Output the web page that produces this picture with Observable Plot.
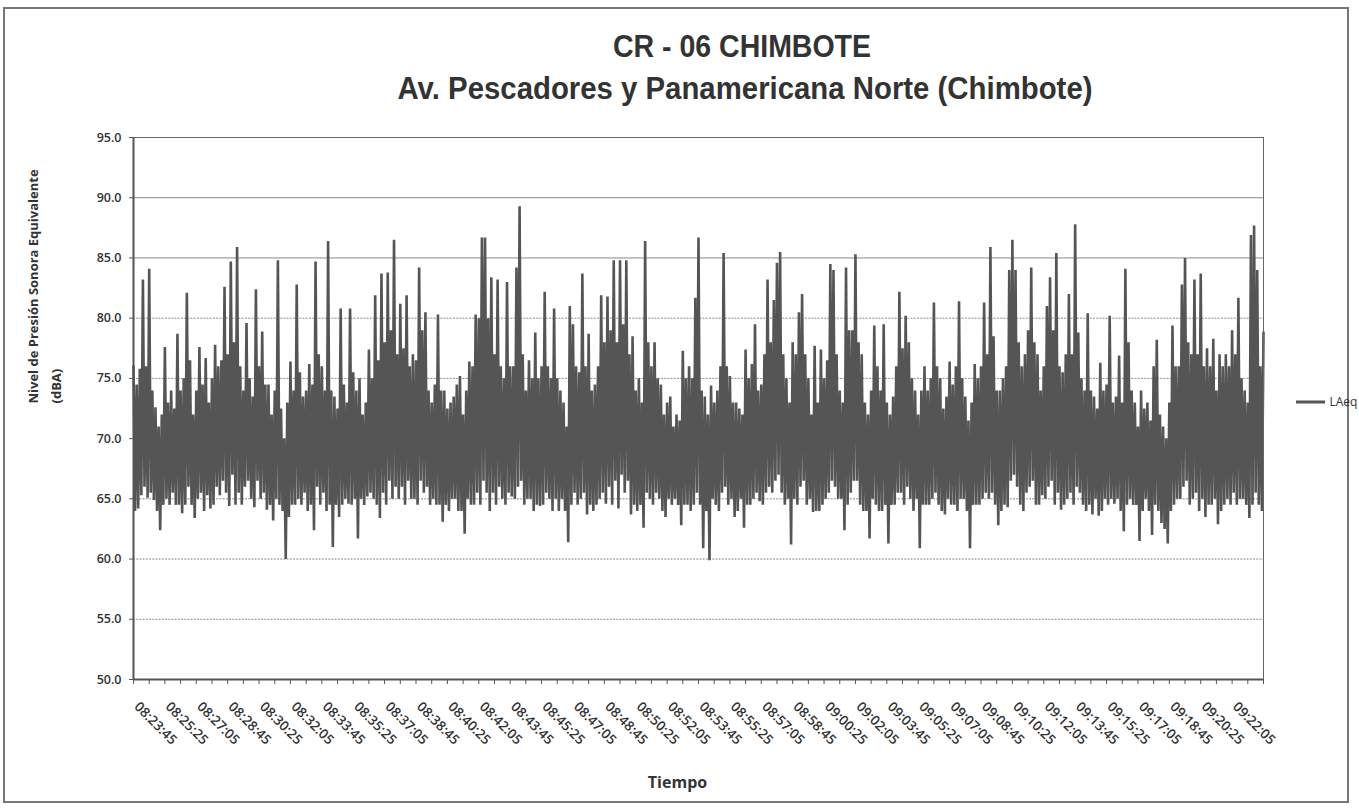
<!DOCTYPE html>
<html>
<head>
<meta charset="utf-8">
<script src="https://cdn.jsdelivr.net/npm/d3@7"></script>
<script src="https://cdn.jsdelivr.net/npm/@observablehq/plot@0.6"></script>
<style>
  html, body { margin: 0; padding: 0; background: #fff; }
  #page { position: relative; width: 1359px; height: 808px; overflow: hidden; background: #fff; }
  #border { position: absolute; left: 3px; top: 7px; width: 1346px; height: 796px; border: 2px solid #777; box-sizing: border-box; }
  #titles { position: absolute; left: 0; top: 0; }
  #chart { position: absolute; left: 0; top: 110px; }
</style>
</head>
<body>
<div id="page">
  <div id="border"></div>
  <svg id="titles" width="1359" height="110"></svg>
  <div id="chart"></div>
</div>
<script>
// ---- data ----
const title = "CR - 06 CHIMBOTE";
const subtitle = "Av. Pescadores y Panamericana Norte (Chimbote)";
const seriesName = "LAeq";
const yTitle1 = "Nivel de Presión Sonora Equivalente";
const yTitle2 = "(dBA)";
const xTitle = "Tiempo";
const stepSeconds = 5; // one reading every 5 s, starting 08:23:45

// readings at 08:23:45, 08:23:55, 08:24:05 ... (upper side of the band, every 10 s)
const laeqHigh = [
  76.0, 74.5, 75.8, 83.2, 76.0, 84.1, 74.0, 72.6, 71.0, 72.0,
  77.6, 73.0, 74.0, 72.5, 78.7, 74.0, 75.0, 82.1, 76.5, 72.0,
  74.0, 77.6, 74.5, 76.7, 73.0, 75.0, 77.8, 76.0, 76.5, 82.6,
  77.0, 84.7, 78.0, 85.9, 76.0, 74.0, 79.6, 75.0, 73.5, 82.4,
  76.0, 78.9, 74.5, 74.5, 72.0, 74.0, 84.8, 72.5, 70.0, 73.0,
  76.4, 74.0, 82.8, 75.5, 73.5, 74.0, 76.2, 74.5, 84.7, 77.0,
  76.0, 74.0, 86.4, 74.0, 73.5, 72.5, 80.8, 74.5, 73.0, 80.8,
  75.5, 74.0,
  75.0, 72.0, 73.0, 77.4, 75.0, 81.9, 76.5, 83.7, 78.0, 83.8,
  79.0, 86.5, 77.0, 81.2, 77.5, 81.9, 76.0, 77.0, 76.5, 84.2,
  79.0, 80.5, 74.0, 73.0, 74.5, 80.3, 74.0, 74.0, 72.5, 73.0,
  73.5, 74.5, 75.2, 72.0, 74.0, 76.4, 76.0, 80.3, 80.0, 86.7,
  86.7, 80.0, 83.4, 77.0, 83.2, 76.0, 75.0, 83.0, 76.0, 76.0,
  84.2, 89.3, 77.0, 74.0, 76.5, 75.0, 78.8, 75.0, 76.0, 82.2,
  76.0, 75.0, 80.8, 75.0, 74.0, 73.0, 71.0, 81.0, 79.5, 76.0,
  75.5, 83.7,
  76.0, 78.7, 74.0, 74.5, 76.0, 81.9, 78.0, 81.8, 79.0, 84.8,
  78.0, 84.8, 79.5, 84.8, 77.0, 78.5, 74.0, 75.0, 73.0, 86.4,
  78.0, 76.0, 78.0, 75.0, 74.5, 72.0, 73.0, 73.5, 71.0, 72.0,
  71.5, 77.3, 75.0, 76.0, 75.0, 81.7, 86.7, 74.0, 73.5, 72.0,
  74.4, 73.0, 74.0, 76.0, 85.4, 76.0, 75.2, 73.0, 73.0, 72.5,
  72.0, 77.4, 75.0, 76.2, 79.5, 74.0, 74.5, 77.0, 83.2, 78.0,
  81.5, 84.6, 85.5, 77.0, 75.0, 73.0, 78.0, 77.0, 80.5, 82.0,
  77.0, 75.0,
  72.0, 77.7, 73.0, 77.4, 75.0, 76.5, 84.5, 84.0, 77.0, 74.0,
  73.0, 84.2, 79.0, 79.0, 85.3, 78.0, 77.0, 73.0, 72.0, 74.0,
  79.4, 76.0, 74.0, 79.5, 73.0, 72.0, 73.5, 76.0, 82.2, 77.5,
  80.2, 78.0, 75.0, 74.0, 72.0, 74.0, 76.0, 74.0, 75.0, 81.3,
  76.0, 75.0, 72.5, 73.5, 76.4, 74.5, 76.0, 81.4, 75.0, 73.5,
  71.5, 73.0, 76.2, 75.0, 76.0, 81.3, 77.0, 85.9, 78.5, 74.0,
  74.0, 75.0, 76.0, 84.0, 86.5, 84.0, 78.0, 76.0, 77.0, 79.0,
  84.2, 78.0,
  77.0, 74.0, 76.0, 81.0, 83.4, 79.0, 85.4, 76.0, 75.5, 77.0,
  82.0, 77.0, 87.8, 78.8, 75.0, 74.0, 80.4, 74.0, 73.5, 72.5,
  76.3, 74.0, 74.5, 80.2, 73.0, 73.5, 76.9, 73.0, 84.1, 78.0,
  74.0, 73.0, 71.0, 74.0, 72.5, 73.0, 71.5, 76.0, 78.2, 72.0,
  71.0, 70.0, 73.0, 79.4, 76.0, 76.0, 82.8, 85.0, 78.0, 77.0,
  83.2, 77.0, 83.7, 76.0, 77.5, 76.0, 78.3, 74.0, 77.0, 76.0,
  77.0, 76.0, 79.0, 77.0, 81.7, 75.0, 74.0, 73.0, 86.9, 87.7,
  84.0, 76.0, 78.8
];
// readings 5 s later: 08:23:50, 08:24:00, 08:24:10 ... (lower side of the band)
const laeqLow = [
  64.0, 64.2, 65.3, 66.0, 65.1, 65.5, 64.9, 64.0, 62.4, 64.5,
  65.0, 64.5, 65.5, 64.5, 64.5, 63.8, 64.5, 66.0, 64.5, 63.4,
  65.0, 65.5, 64.0, 65.3, 64.2, 64.5, 66.0, 65.3, 66.5, 65.5,
  64.4, 67.0, 64.5, 65.5, 64.5, 66.0, 66.5, 65.0, 64.3, 66.5,
  65.0, 65.5, 64.1, 64.5, 63.2, 65.0, 64.5, 64.0, 60.0, 63.5,
  64.5, 64.5, 65.0, 64.5, 65.5, 64.0, 64.5, 62.4, 66.0, 64.5,
  65.5, 64.0, 64.5, 61.0, 64.5, 63.5, 64.5, 65.0, 64.6, 64.5,
  65.0, 61.7,
  65.0, 64.5, 65.2, 65.5, 65.0, 64.5, 63.4, 65.5, 64.5, 66.5,
  65.0, 66.0, 65.0, 66.0, 64.5, 66.5, 65.0, 65.0, 64.5, 66.5,
  65.5, 66.0, 64.5, 65.0, 64.5, 64.5, 63.1, 64.5, 64.0, 65.0,
  65.0, 64.0, 64.0, 62.1, 65.0, 64.5, 64.5, 65.5, 64.5, 66.5,
  65.5, 64.0, 65.5, 64.5, 66.0, 65.0, 64.5, 65.5, 65.2, 65.0,
  66.0, 66.5, 64.5, 65.0, 65.0, 64.0, 64.5, 64.4, 64.5, 65.5,
  65.0, 64.0, 65.0, 64.0, 65.0, 64.0, 61.4, 64.5, 65.5, 64.5,
  65.0, 65.5,
  63.7, 64.5, 64.0, 64.5, 65.0, 65.5, 64.6, 66.0, 64.5, 66.5,
  64.2, 67.0, 65.5, 66.5, 63.7, 64.5, 64.0, 64.5, 62.6, 65.5,
  65.0, 64.5, 65.5, 65.0, 64.0, 63.5, 65.0, 64.5, 65.0, 64.5,
  62.8, 64.5, 64.5, 64.0, 64.5, 65.5, 64.5, 60.9, 64.0, 59.9,
  65.0, 64.5, 64.0, 65.5, 66.0, 64.5, 65.0, 63.5, 64.0, 65.0,
  62.6, 64.5, 64.5, 65.0, 65.5, 64.8, 64.5, 65.5, 66.0, 65.5,
  66.5, 67.0, 65.5, 64.5, 65.0, 61.2, 65.0, 64.5, 66.0, 66.5,
  64.5, 65.0,
  63.9, 64.0, 64.0, 64.5, 65.0, 65.5, 66.5, 66.0, 65.0, 65.0,
  62.4, 64.5, 65.5, 66.5, 66.5, 64.5, 64.0, 64.0, 61.7, 65.0,
  64.5, 64.0, 64.0, 64.5, 61.3, 64.5, 64.5, 65.5, 65.5, 64.5,
  66.0, 65.0, 64.0, 65.0, 60.9, 64.5, 64.5, 64.5, 65.0, 65.5,
  64.5, 64.0, 63.7, 65.0, 64.5, 64.5, 64.0, 65.0, 65.0, 64.0,
  60.9, 64.5, 64.5, 64.5, 65.0, 65.5, 65.0, 65.5, 64.5, 62.8,
  64.0, 64.5, 64.3, 66.5, 67.0, 66.0, 64.5, 64.0, 65.5, 66.0,
  66.5, 64.5,
  64.5, 65.3, 65.0, 66.0, 66.5, 64.5, 65.5, 64.1, 64.5, 65.0,
  65.5, 64.5, 66.0, 65.5, 64.5, 64.0, 64.5, 63.7, 65.0, 63.6,
  64.0, 65.0, 64.5, 65.0, 64.6, 65.0, 64.0, 62.3, 64.5, 65.0,
  64.5, 64.5, 61.5, 64.0, 65.0, 64.0, 62.0, 64.5, 64.0, 63.0,
  62.5, 61.3, 64.0, 64.5, 65.0, 65.0, 66.0, 66.5, 64.5, 65.0,
  65.5, 64.0, 65.0, 63.5, 64.5, 64.5, 65.0, 62.9, 64.0, 64.5,
  65.0, 64.5, 65.5, 64.5, 65.0, 65.0, 64.5, 63.4, 64.5, 65.5,
  64.5, 64.0
];
const tickLabels = [
  "08:23:45","08:25:25","08:27:05","08:28:45","08:30:25","08:32:05",
  "08:33:45","08:35:25","08:37:05","08:38:45","08:40:25","08:42:05",
  "08:43:45","08:45:25","08:47:05","08:48:45","08:50:25","08:52:05",
  "08:53:45","08:55:25","08:57:05","08:58:45","09:00:25","09:02:05",
  "09:03:45","09:05:25","09:07:05","09:08:45","09:10:25","09:12:05",
  "09:13:45","09:15:25","09:17:05","09:18:45","09:20:25","09:22:05"
];
const yTicks = [50, 55, 60, 65, 70, 75, 80, 85, 90, 95];

// ---- build ----
const laeq = [];
laeqHigh.forEach((a, i) => { laeq.push(a); if (i < laeqLow.length) laeq.push(laeqLow[i]); });
const data = laeq.map((v, i) => ({t: i * stepSeconds, v}));
const labelTicks = tickLabels.map((_, i) => i * 100);
const minorTicks = d3.range(0, 3601, 50);

// titles
const ts = d3.select("#titles");
ts.append("text").attr("x", 742).attr("y", 57).attr("text-anchor", "middle")
  .attr("font-family", "Liberation Sans, Arial, sans-serif").attr("font-weight", "bold")
  .attr("font-size", 32).attr("fill", "#333")
  .attr("textLength", 258).attr("lengthAdjust", "spacingAndGlyphs").text(title);
ts.append("text").attr("x", 745).attr("y", 99).attr("text-anchor", "middle")
  .attr("font-family", "Liberation Sans, Arial, sans-serif").attr("font-weight", "bold")
  .attr("font-size", 32).attr("fill", "#333")
  .attr("textLength", 695).attr("lengthAdjust", "spacingAndGlyphs").text(subtitle);

const plot = Plot.plot({
  width: 1359,
  height: 698,
  marginLeft: 133,
  marginRight: 96,
  marginTop: 27,
  marginBottom: 129,
  style: {fontFamily: "Open Sans, sans-serif", fontSize: "12px", color: "#333", background: "transparent", overflow: "visible"},
  x: {domain: [0, 3600], axis: null},
  y: {domain: [50, 95], axis: null},
  marks: [
    Plot.ruleY(yTicks.filter(d => d > 50 && d < 85), {stroke: "#8a8a8a", strokeDasharray: "2,1.2"}),
    Plot.ruleY(yTicks.filter(d => d >= 85 && d < 95), {stroke: "#8a8a8a"}),
    Plot.line(data, {x: "t", y: "v", stroke: "#555", strokeWidth: 2.6, strokeLinejoin: "miter", strokeMiterlimit: 1.5}),
    Plot.frame({stroke: "#666"}),
    Plot.ruleX([0], {stroke: "#555", strokeWidth: 2}),
    Plot.ruleY([50], {stroke: "#555", strokeWidth: 2}),
    Plot.axisY({ticks: yTicks, tickFormat: d => d.toFixed(1), label: null, tickSize: 4, tickPadding: 8, fontWeight: 600, fontSize: 12.5, stroke: "#555"}),
    Plot.axisX({ticks: minorTicks, tickFormat: () => "", label: null, tickSize: 5, stroke: "#555"}),
    Plot.axisX({ticks: labelTicks, tickFormat: d => tickLabels[Math.round(d / 100)], label: null, tickRotate: 45, tickSize: 0, tickPadding: 25, dx: 3, fontWeight: 600, fontSize: 13.5}),
    Plot.text([xTitle], {frameAnchor: "bottom", dx: -21, dy: 108, fontWeight: "bold", fontSize: 16, fill: "#333"}),
    Plot.text([yTitle1], {frameAnchor: "left", dx: -100, dy: -5, rotate: -90, fontWeight: "bold", fontSize: 13, fill: "#333", ariaLabel: "ytitle1"}),
    Plot.text([yTitle2], {frameAnchor: "left", dx: -77, dy: -5, rotate: -90, fontWeight: "bold", fontSize: 13, fill: "#333", ariaLabel: "ytitle2"}),
    Plot.text([seriesName], {frameAnchor: "right", dx: 66, dy: -6, textAnchor: "start", fontSize: 12, fill: "#333"})
  ]
});
document.getElementById("chart").appendChild(plot);

const svg = d3.select(plot);
svg.select('g[aria-label="ytitle1"] text').attr("textLength", 309).attr("lengthAdjust", "spacingAndGlyphs");
svg.select('g[aria-label="ytitle2"] text').attr("textLength", 44).attr("lengthAdjust", "spacingAndGlyphs");
// legend sample line
svg.append("line").attr("x1", 1296).attr("x2", 1325).attr("y1", 292).attr("y2", 292)
  .attr("stroke", "#555").attr("stroke-width", 3);
</script>
</body>
</html>
